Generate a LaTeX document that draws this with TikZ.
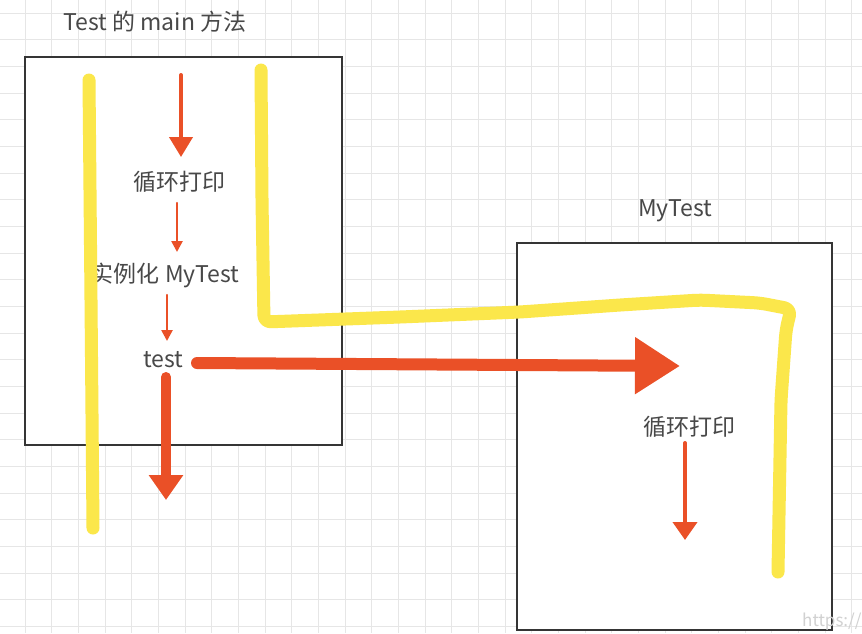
\documentclass[tikz,border=0pt]{standalone}
\usepackage{fontspec}
\newfontfamily\cjkfont{Noto Sans CJK SC}
\usetikzlibrary{arrows.meta}
\definecolor{hlyellow}{HTML}{FBE74B}
\definecolor{flowred}{HTML}{EA5027}
\definecolor{boxgray}{HTML}{353535}
\definecolor{textgray}{HTML}{484848}
\definecolor{gridgray}{HTML}{E6E6E6}

\begin{document}
\begin{tikzpicture}[x=1pt,y=-1pt,
    lbl/.style={font=\cjkfont\fontsize{23}{27}\selectfont,text=textgray,inner sep=0pt,anchor=base},
    frame/.style={draw=boxgray,line width=2.2pt,fill=white,inner sep=0pt},
    marker/.style={draw=hlyellow,line width=13pt,line cap=round,line join=round,rounded corners=7pt},
    flow/.style={draw=flowred,line width=#1,line cap=round}]
    \useasboundingbox[fill=white] (0,0) rectangle (862,633);

    % grid
    \foreach \k in {-1,...,31}
        \draw[gridgray,line width=1pt] (25+26.67*\k,0) -- (25+26.67*\k,633);
    \foreach \k in {0,...,23}
        \draw[gridgray,line width=1pt] (0,13+26.67*\k) -- (862,13+26.67*\k);

    % boxes
    \node (mainbox) at (183.5,251) [frame,minimum width=317pt,minimum height=388pt] {};
    \node (testbox) at (674.5,436.5) [frame,minimum width=315pt,minimum height=387pt] {};

    % texts
    \node (title) at (155,30) [lbl] {Test 的 main 方法};
    \node (mytitle) at (675,216) [lbl] {MyTest};
    \node (loop1) at (179,190) [lbl] {循环打印};
    \node (inst) at (165,282) [lbl] {实例化 MyTest};
    \node (call) at (163,367) [lbl] {test};
    \node (loop2) at (689,435) [lbl] {循环打印};
    \node (mark) at (802,626) [anchor=base west,inner sep=0pt,font=\cjkfont\fontsize{17}{20}\selectfont,text=black!18] {https://b};

    % yellow marker strokes
    \draw[marker] (89,80) -- (91,300) -- (93,528);
    \draw[marker] (261,70) -- (262,200) -- (264,322) -- (400,317) -- (520,312)
        -- (620,305) -- (700,300) -- (760,303) -- (791,309) -- (786,330)
        -- (781,400) -- (778,572);

    % red arrows
    \coordinate (a1s) at (181,75);
    \coordinate (a1e) at (181,157);
    \coordinate (a2s) at (177,203);
    \coordinate (a2e) at (177,252);
    \coordinate (a3s) at (167,295);
    \coordinate (a3e) at (167,341);
    \coordinate (a4s) at (166,377);
    \coordinate (a4e) at (166,500);
    \coordinate (bigs) at (197,363);
    \coordinate (bige) at (680,366);
    \coordinate (a5s) at (685,443);
    \coordinate (a5e) at (685,540);

    \draw[flow=4pt,-{Triangle[width=23pt,length=20pt]}] (a1s) -- (a1e);
    \draw[flow=2.5pt,-{Triangle[width=11pt,length=11pt]}] (a2s) -- (a2e);
    \draw[flow=2.5pt,-{Triangle[width=11pt,length=11pt]}] (a3s) -- (a3e);
    \draw[flow=10pt,-{Triangle[width=33pt,length=25pt]}] (a4s) -- (a4e);
    \draw[flow=12pt,-{Triangle[width=54pt,length=45pt]}] (bigs) -- (bige);
    \draw[flow=4pt,-{Triangle[width=24pt,length=18pt]}] (a5s) -- (a5e);
\end{tikzpicture}
\end{document}
